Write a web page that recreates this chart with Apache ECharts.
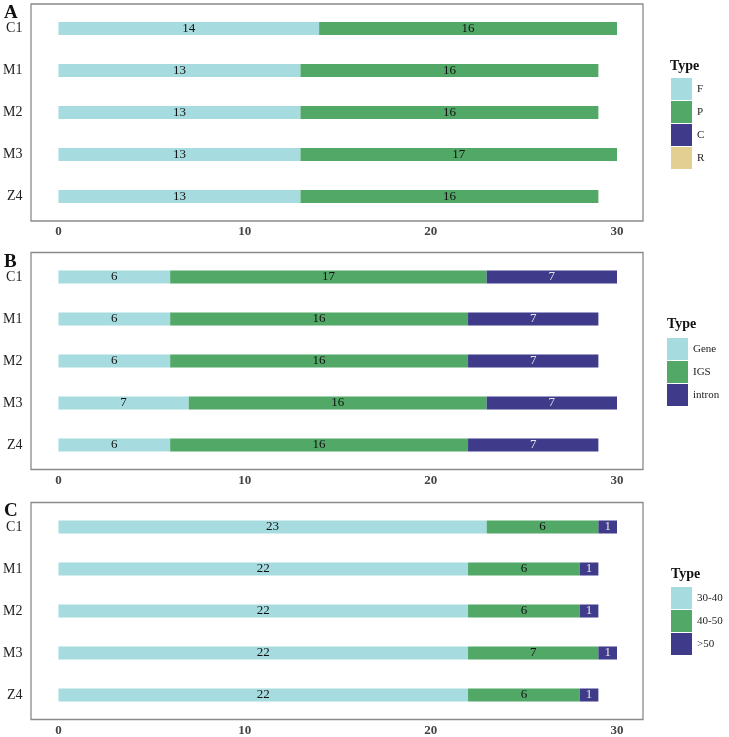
<!DOCTYPE html>
<html>
<head>
<meta charset="utf-8">
<script src="https://cdn.jsdelivr.net/npm/echarts@6/dist/echarts.min.js"></script>
<style>
  html, body { margin: 0; padding: 0; background: #fff; }
  #main { width: 729px; height: 737px; }
</style>
</head>
<body>
<div id="main"></div>
<script>
// 数据
var categories = ['C1', 'M1', 'M2', 'M3', 'Z4'];
var xTicks = [0, 10, 20, 30];

// A 面板
var typeF = [14, 13, 13, 13, 13];
var typeP = [16, 16, 16, 17, 16];
var typeC = [0, 0, 0, 0, 0];
var typeR = [0, 0, 0, 0, 0];
// B 面板
var gene = [6, 6, 6, 7, 6];
var igs = [17, 16, 16, 16, 16];
var intron = [7, 7, 7, 7, 7];
// C 面板
var gc3040 = [23, 22, 22, 22, 22];
var gc4050 = [6, 6, 6, 7, 6];
var gc50 = [1, 1, 1, 1, 1];

var cyan = '#a6dce0', green = '#52a866', navy = '#3f3b8a', tan = '#e3cf92';
var serif = '"Liberation Serif", "DejaVu Serif", serif';

var chart = echarts.init(document.getElementById('main'));

var gridTops = [7.5, 256, 506];
var gridH = 210;

var grids = [], xAxes = [], yAxes = [], graphics = [];
gridTops.forEach(function (top, i) {
    grids.push({left: 58, width: 559, top: top, height: gridH});
    xAxes.push({
        type: 'value', gridIndex: i, min: xTicks[0], max: xTicks[xTicks.length - 1], interval: 10,
        axisLine: {show: false}, axisTick: {show: false}, splitLine: {show: false},
        axisLabel: {margin: 8, fontFamily: serif, fontWeight: 'bold', fontSize: 13, color: '#444'}
    });
    yAxes.push({
        type: 'category', gridIndex: i, data: categories, inverse: true,
        axisLine: {show: false}, axisTick: {show: false},
        axisLabel: {margin: 36, fontFamily: serif, fontSize: 14, color: '#222'}
    });
    // 外框
    graphics.push({
        type: 'rect', shape: {x: 31, y: top - 3.5, width: 612, height: gridH + 7},
        style: {fill: 'none', stroke: '#8a8a8a', lineWidth: 1.3}, silent: true
    });
});

// 面板字母
[['A', 4], ['B', 253], ['C', 502]].forEach(function (p) {
    graphics.push({type: 'text', left: 4, top: p[1],
        style: {text: p[0], font: 'bold 19px ' + serif, fill: '#111'}});
});
// 图例标题
[[670, 59], [667, 317], [671, 567]].forEach(function (p) {
    graphics.push({type: 'text', left: p[0], top: p[1],
        style: {text: 'Type', font: 'bold 14px ' + serif, fill: '#111'}});
});

function bar(name, data, idx, color, light) {
    return {
        name: name, type: 'bar', stack: 'p' + idx, data: data,
        xAxisIndex: idx, yAxisIndex: idx, barWidth: 13,
        itemStyle: {color: color},
        label: {
            show: true, position: 'inside', fontFamily: serif, fontSize: 13,
            color: light ? '#e6e6e6' : '#111',
            formatter: function (p) { return p.value ? p.value : ''; }
        },
        emphasis: {disabled: true}
    };
}

function legend(names, left, top) {
    return {
        orient: 'vertical', left: left, top: top, data: names, padding: 0,
        icon: 'rect', itemWidth: 21, itemHeight: 22, itemGap: 1, itemTextGap: 8,
        selectedMode: false,
        textStyle: {fontFamily: serif, fontSize: 11, color: '#222'}
    };
}

var option = {
    animation: false,
    grid: grids,
    xAxis: xAxes,
    yAxis: yAxes,
    legend: [
        legend(['F', 'P', 'C', 'R'], 671, 78),
        legend(['Gene', 'IGS', 'intron'], 667, 338),
        legend(['30-40', '40-50', '>50'], 671, 587)
    ],
    graphic: graphics,
    series: [
        bar('F', typeF, 0, cyan),
        bar('P', typeP, 0, green),
        bar('C', typeC, 0, navy, true),
        bar('R', typeR, 0, tan),
        bar('Gene', gene, 1, cyan),
        bar('IGS', igs, 1, green),
        bar('intron', intron, 1, navy, true),
        bar('30-40', gc3040, 2, cyan),
        bar('40-50', gc4050, 2, green),
        bar('>50', gc50, 2, navy, true)
    ]
};

chart.setOption(option);
</script>
</body>
</html>
